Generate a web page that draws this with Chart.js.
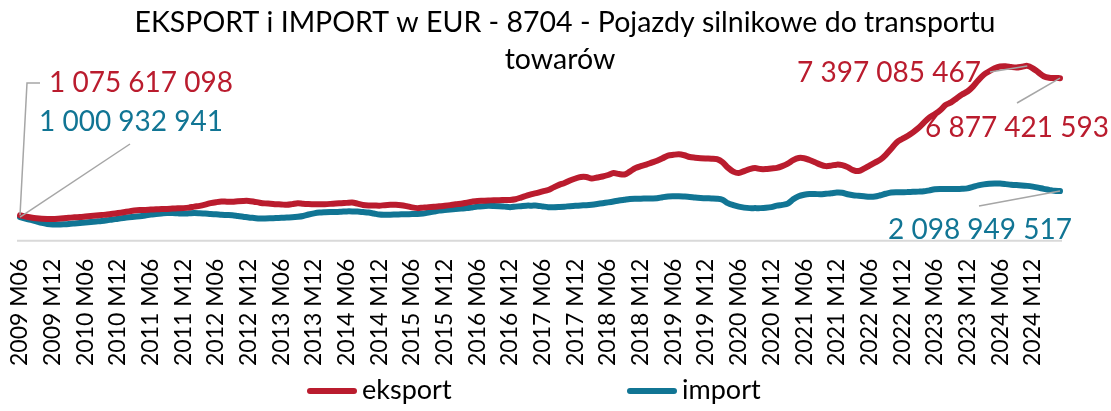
<!DOCTYPE html>
<html lang="pl">
<head>
<meta charset="utf-8">
<title>Eksport i import 8704</title>
<script src="https://cdn.jsdelivr.net/npm/chart.js@4.4.1/dist/chart.umd.min.js"></script>
<style>
  html, body { margin: 0; padding: 0; background: #fff; }
  #wrap { position: relative; width: 1111px; height: 411px; }
</style>
</head>
<body>
<div id="wrap"><canvas id="tradeChart" width="1111" height="411"></canvas></div>
<script>
// Data in mln EUR, monthly from 2009 M06 to 2025 M05
const startYear = 2009;
const startMonth = 6;
const tickMonths = ['M06', 'M12'];

const eksportMln = [
    1075.6, 1024, 982, 949, 928, 920, 920, 932, 949, 970, 991, 1003,
    1024, 1045, 1066, 1087, 1108, 1137, 1170, 1204, 1241, 1275, 1296, 1304,
    1317, 1329, 1338, 1346, 1359, 1371, 1379, 1400, 1442, 1476, 1526, 1588,
    1630, 1659, 1651, 1651, 1672, 1685, 1685, 1651, 1609, 1580, 1567, 1547,
    1534, 1517, 1547, 1588, 1567, 1555, 1547, 1547, 1547, 1559, 1576, 1588,
    1601, 1618, 1567, 1513, 1492, 1492, 1484, 1505, 1517, 1517, 1505, 1463,
    1409, 1379, 1400, 1421, 1434, 1455, 1476, 1505, 1547, 1567, 1609, 1651,
    1685, 1693, 1701, 1714, 1714, 1722, 1726, 1756, 1827, 1902, 1973, 2027,
    2090, 2144, 2257, 2362, 2445, 2550, 2633, 2696, 2696, 2633, 2675, 2717,
    2780, 2863, 2821, 2801, 2926, 3072, 3156, 3219, 3302, 3386, 3490, 3603,
    3637, 3658, 3616, 3540, 3511, 3490, 3478, 3469, 3449, 3323, 3093, 2926,
    2863, 2947, 3030, 3072, 3030, 3030, 3060, 3081, 3156, 3260, 3407, 3499,
    3490, 3415, 3323, 3219, 3156, 3177, 3219, 3198, 3114, 2989, 2947, 3051,
    3177, 3302, 3428, 3637, 3887, 4159, 4305, 4431, 4585, 4765, 4995, 5204,
    5350, 5518, 5748, 5852, 6019, 6186, 6312, 6521, 6793, 7022, 7169, 7294,
    7370, 7380, 7350, 7330, 7360, 7397.1, 7294, 7127, 6960, 6897, 6884, 6877.4
];

const importMln = [
    1000.9, 940, 878, 815, 752, 711, 690, 690, 698, 711, 731, 752,
    773, 794, 815, 836, 865, 899, 928, 961, 991, 1016, 1032, 1066,
    1108, 1129, 1150, 1170, 1170, 1158, 1150, 1158, 1170, 1162, 1150, 1129,
    1116, 1099, 1087, 1074, 1045, 1016, 982, 961, 940, 940, 949, 961,
    970, 982, 991, 1012, 1045, 1108, 1158, 1191, 1204, 1212, 1212, 1225,
    1241, 1241, 1233, 1212, 1191, 1150, 1108, 1099, 1099, 1108, 1116, 1120,
    1129, 1129, 1150, 1191, 1233, 1275, 1296, 1317, 1338, 1359, 1379, 1409,
    1442, 1463, 1476, 1472, 1463, 1442, 1421, 1442, 1463, 1484, 1484, 1484,
    1450, 1421, 1421, 1430, 1442, 1463, 1476, 1492, 1505, 1526, 1555, 1588,
    1622, 1659, 1701, 1735, 1768, 1777, 1777, 1785, 1789, 1797, 1839, 1873,
    1881, 1881, 1868, 1852, 1827, 1810, 1797, 1789, 1777, 1735, 1588, 1505,
    1442, 1400, 1379, 1379, 1379, 1392, 1421, 1484, 1517, 1567, 1756, 1881,
    1944, 1977, 1977, 1965, 1986, 2006, 2036, 2027, 1965, 1923, 1902, 1881,
    1860, 1868, 1923, 1986, 2036, 2048, 2048, 2057, 2069, 2077, 2090, 2132,
    2174, 2186, 2186, 2186, 2186, 2195, 2215, 2278, 2341, 2383, 2412, 2424,
    2416, 2395, 2370, 2353, 2341, 2320, 2287, 2245, 2195, 2153, 2111, 2098.9
];

// exact values shown in the labels (EUR)
const labelIndex = [0, 0, 185, 191, 191];
const labelSeries = [0, 1, 0, 0, 1];
const labelValues = [1075617098, 1000932941, 7397085467, 6877421593, 2098949517];

const months = [];
for (let i = 0; i < eksportMln.length; i++) {
    const total = startMonth - 1 + i;
    const y = startYear + Math.floor(total / 12);
    const m = total % 12 + 1;
    months.push(y + ' M' + String(m).padStart(2, '0'));
}

const RED = '#BA1C2E';
const BLUE = '#117594';
const GREY = '#A6A6A6';
const FONT = 'Lato';

function fmt(n) {
    return String(n).replace(/\B(?=(\d{3})+(?!\d))/g, ' ');
}

// label text position + leader line bend points
const calloutLayout = [
    { x: 49, y: 83, path: [[27, 83], [40, 83]] },
    { x: 39, y: 122, path: [[130, 144]] },
    { x: 797, y: 73, path: [[990, 72]] },
    { x: 925, y: 128, path: [[1017, 103]] },
    { x: 888, y: 230, path: [[979, 206]] }
];

const overlayPlugin = {
    id: 'overlay',
    beforeDatasetsDraw(chart) {
        // category axis line along the zero level
        const ctx = chart.ctx;
        const area = chart.chartArea;
        const y0 = chart.scales.y.getPixelForValue(0);
        ctx.save();
        ctx.strokeStyle = '#D9D9D9';
        ctx.lineWidth = 2;
        ctx.beginPath();
        ctx.moveTo(area.left - 3, y0);
        ctx.lineTo(area.right + 2, y0);
        ctx.stroke();
        ctx.restore();
    },
    afterDraw(chart) {
        const ctx = chart.ctx;
        const xs = chart.scales.x;
        const ys = chart.scales.y;
        ctx.save();

        // title
        ctx.fillStyle = '#000';
        ctx.textAlign = 'center';
        ctx.textBaseline = 'middle';
        ctx.font = '28.5px ' + FONT;
        ctx.fillText('EKSPORT i IMPORT w EUR - 8704 - Pojazdy silnikowe do transportu', 565, 23);
        ctx.fillText('towarów', 560, 60);

        // callouts
        labelValues.forEach((v, i) => {
            const series = labelSeries[i] === 0 ? eksportMln : importMln;
            const px = xs.getPixelForValue(labelIndex[i]);
            const py = ys.getPixelForValue(series[labelIndex[i]]);
            const lay = calloutLayout[i];
            ctx.strokeStyle = GREY;
            ctx.lineWidth = 1.5;
            ctx.beginPath();
            ctx.moveTo(px, py);
            lay.path.forEach(p => ctx.lineTo(p[0], p[1]));
            ctx.stroke();
            ctx.fillStyle = labelSeries[i] === 0 ? RED : BLUE;
            ctx.font = '28px ' + FONT;
            ctx.textAlign = 'left';
            ctx.textBaseline = 'middle';
            ctx.fillText(fmt(v), lay.x, lay.y);
        });

        // legend
        const items = [
            { text: 'eksport', color: RED, x: 307 },
            { text: 'import', color: BLUE, x: 627 }
        ];
        ctx.font = '27px ' + FONT;
        ctx.textAlign = 'left';
        ctx.textBaseline = 'middle';
        items.forEach(it => {
            ctx.strokeStyle = it.color;
            ctx.lineWidth = 6;
            ctx.lineCap = 'round';
            ctx.beginPath();
            ctx.moveTo(it.x + 3, 391);
            ctx.lineTo(it.x + 47, 391);
            ctx.stroke();
            ctx.fillStyle = '#000';
            ctx.fillText(it.text, it.x + 55, 390);
        });
        ctx.restore();
    }
};

function drawChart() {
    const ctx = document.getElementById('tradeChart').getContext('2d');
    new Chart(ctx, {
        type: 'line',
        data: {
            labels: months,
            datasets: [
                {
                    label: 'eksport',
                    data: eksportMln,
                    borderColor: RED,
                    borderWidth: 6,
                    pointRadius: 0,
                    tension: 0.3,
                    borderCapStyle: 'round',
                    borderJoinStyle: 'round'
                },
                {
                    label: 'import',
                    data: importMln,
                    borderColor: BLUE,
                    borderWidth: 6,
                    pointRadius: 0,
                    tension: 0.3,
                    borderCapStyle: 'round',
                    borderJoinStyle: 'round'
                }
            ]
        },
        options: {
            responsive: false,
            animation: false,
            layout: { padding: { left: 20, right: 51, top: 28, bottom: 27 } },
            plugins: {
                legend: { display: false },
                title: { display: false },
                tooltip: { enabled: false }
            },
            scales: {
                x: {
                    grid: { display: false, drawTicks: false },
                    border: { display: false },
                    ticks: {
                        autoSkip: false,
                        minRotation: 90,
                        maxRotation: 90,
                        padding: 18,
                        color: '#000',
                        font: { family: FONT, size: 23 },
                        callback: function(value, index) {
                            const lab = months[index];
                            return tickMonths.includes(lab.slice(-3)) ? lab : '';
                        }
                    }
                },
                y: {
                    display: false,
                    min: 0,
                    max: 9000
                }
            }
        },
        plugins: [overlayPlugin]
    });
}

document.fonts.load('22px ' + FONT).then(drawChart, drawChart);
</script>
</body>
</html>
